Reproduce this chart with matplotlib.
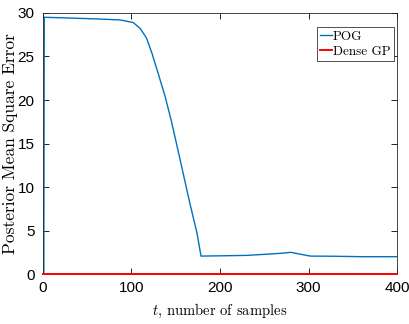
import matplotlib
matplotlib.use("Agg")
import matplotlib.pyplot as plt

# POG curve keypoints
pog_t = [1, 1.5, 20, 50, 64, 87, 102, 110, 117, 123, 130, 138, 145, 155, 166, 174, 178.5, 200, 230, 255, 270, 280, 290, 302, 330, 360, 400]
pog_v = [0, 29.5, 29.45, 29.35, 29.3, 29.2, 28.9, 28.2, 27.1, 25.4, 23.1, 20.4, 17.6, 13.1, 8.1, 4.7, 2.07, 2.1, 2.15, 2.3, 2.4, 2.5, 2.3, 2.07, 2.05, 2.0, 2.0]
dense_t = [0, 400]
dense_v = [0.0, 0.0]

xticks = [0, 100, 200, 300, 400]
yticks = [0, 5, 10, 15, 20, 25, 30]

plt.rcParams['mathtext.fontset'] = 'cm'
fig = plt.figure(figsize=(4.09, 3.24), dpi=100)
ax = fig.add_axes([0.105, 0.154, 0.866, 0.806])
ax.plot(pog_t, pog_v, color='#0072BD', lw=1.0, label='POG')
ax.plot(dense_t, dense_v, color='#FF0000', lw=1.4, label='Dense GP', clip_on=False, zorder=3)
ax.set_xlim(0, 400)
ax.set_ylim(0, 30)
ax.set_xticks(xticks)
ax.set_yticks(yticks)
ax.tick_params(direction='in', top=True, right=True, length=4, width=0.6, labelsize=11)
ax.tick_params(axis='x', pad=5)
ax.tick_params(axis='y', pad=6)
for lab in ax.get_xticklabels() + ax.get_yticklabels():
    lab.set_family(['Liberation Sans Narrow', 'Liberation Sans'])
for s in ax.spines.values():
    s.set_linewidth(0.6)
    s.set_color('#262626')
ax.set_xlabel(r'$t$, number of samples', family='cmr10', fontsize=10.5, labelpad=5)
ax.set_ylabel('Posterior Mean Square Error', family='cmr10', fontsize=12.5)
ax.yaxis.set_label_coords(-0.07, 0.5)
leg = ax.legend(loc='upper right', bbox_to_anchor=(394 / 409, (324 - 27) / 324),
                bbox_transform=fig.transFigure,
                prop={'family': 'cmr10', 'size': 9.5}, fancybox=False,
                edgecolor='#333333', framealpha=1, handlelength=0.9, handletextpad=0.1,
                borderpad=0.25, labelspacing=0.25, borderaxespad=0)
leg.get_frame().set_linewidth(0.6)
fig.savefig('out.png', dpi=100)
